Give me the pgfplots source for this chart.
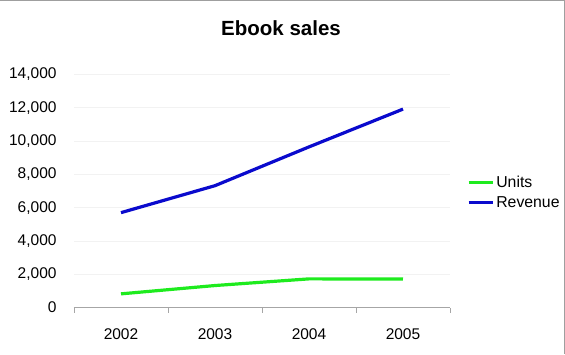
\documentclass[border=0pt]{standalone}
\usepackage{fontspec}
\setmainfont{Liberation Sans}
\usepackage{pgfplots}
\pgfplotsset{compat=1.18}
\definecolor{ugreen}{RGB}{30,235,30}
\definecolor{rblue}{RGB}{10,10,205}
\begin{document}
\begin{tikzpicture}[x=1pt,y=1pt]
\path[use as bounding box] (0,0) rectangle (565,354);
\draw[gray!75, line width=1pt] (0,353.5) -- (564.5,353.5) -- (564.5,0);
\node[font=\fontsize{20.5}{24}\selectfont\bfseries] at (281,326) {Ebook sales};
\begin{axis}[
  at={(74pt,46.5pt)}, anchor=south west,
  scale only axis, width=376pt, height=233pt,
  xmin=-0.5, xmax=3.5, ymin=0, ymax=14000,
  axis x line*=bottom, axis y line*=left,
  y axis line style={draw=none},
  x axis line style={gray!70, line width=0.8pt},
  xtick={0,1,2,3}, xticklabels={2002,2003,2004,2005},
  major x tick style={draw=none},
  minor xtick={-0.5,0.5,1.5,2.5,3.5},
  minor x tick style={draw=gray!70, line width=0.8pt},
  minor tick length=5pt, tick align=outside,
  ytick={0,2000,4000,6000,8000,10000,12000,14000},
  y tick style={draw=none},
  ymajorgrids, grid style={color=gray!10, line width=0.8pt},
  /pgf/number format/assume math mode=true,
  /pgf/number format/1000 sep={,},
  scaled y ticks=false,
  ticklabel style={font=\fontsize{15.5}{18}\selectfont},
  yticklabel style={anchor=east, inner sep=0pt, xshift=-13pt},
  xticklabel style={anchor=north, inner sep=0pt, yshift=-17pt},
  legend style={at={(1.045,0.494)}, anchor=west, draw=none, fill=none, inner sep=0pt,
    font=\fontsize{15.8}{18}\selectfont, row sep=8pt,
    nodes={inner xsep=2pt, inner ysep=0pt}},
  legend cell align=left,
  legend image code/.code={\draw[#1, line width=3.2pt] (0pt,0pt) -- (24pt,0pt);},
]
\addplot[ugreen, line width=3.2pt] coordinates {(0,820) (1,1320) (2,1720) (3,1710)};
\addlegendentry{Units}
\addplot[rblue, line width=3.2pt] coordinates {(0,5700) (1,7320) (2,9650) (3,11920)};
\addlegendentry{Revenue}
\end{axis}
\end{tikzpicture}
\end{document}
